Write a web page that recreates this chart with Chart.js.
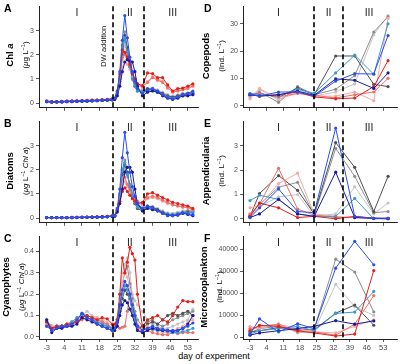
<!DOCTYPE html>
<html><head><meta charset="utf-8">
<script src="https://cdn.jsdelivr.net/npm/chart.js@4/dist/chart.umd.min.js"></script>
<style>
body{margin:0;width:400px;height:364px;background:#fff;position:relative;overflow:hidden;font-family:"Liberation Sans",Arial,sans-serif}
canvas{position:absolute}
.pl{position:absolute;font-weight:bold;font-size:10.5px;line-height:10px;color:#000}
.yt{position:absolute;transform:translate(-50%,-50%) rotate(-90deg);white-space:nowrap;text-align:center;font-size:8px;line-height:12px;color:#000}
.yt b{font-size:9.5px}
.yt sup{font-size:5.5px;vertical-align:3px}
.xt{position:absolute;font-size:9px;color:#000;white-space:nowrap;transform:translateX(-50%)}
</style></head><body>
<canvas id="cA"></canvas><canvas id="cB"></canvas><canvas id="cC"></canvas>
<canvas id="cD"></canvas><canvas id="cE"></canvas><canvas id="cF"></canvas>
<div class="pl" style="left:4px;top:3px">A</div>
<div class="pl" style="left:4px;top:118px">B</div>
<div class="pl" style="left:4px;top:233px">C</div>
<div class="pl" style="left:204px;top:3px">D</div>
<div class="pl" style="left:204px;top:118px">E</div>
<div class="pl" style="left:204px;top:233px">F</div>
<div class="yt" style="left:18px;top:55px"><b>Chl <i>a</i></b><br>(<i>μ</i>g L<sup>−1</sup>)</div>
<div class="yt" style="left:18px;top:171px"><b>Diatoms</b><br>(<i>μg</i> L<sup>−1</sup> <i>Chl a</i>)</div>
<div class="yt" style="left:14px;top:287px"><b>Cyanophytes</b><br>(<i>μg</i> L<sup>−1</sup> <i>Chl a</i>)</div>
<div class="yt" style="left:214px;top:56px"><b>Copepods</b><br>(Ind. L<sup>−1</sup>)</div>
<div class="yt" style="left:214px;top:171px"><b>Appendicularia</b><br>(Ind. L<sup>−1</sup>)</div>
<div class="yt" style="left:212px;top:287px"><b>Microzooplankton</b><br>(Ind. L<sup>−1</sup>)</div>
<div class="xt" style="left:214px;top:351px">day of experiment</div>
<script>
// ---------- data ----------
const seriesNames = ["blue","navy","red","lightblue","salmon","pink","darkgrey","grey","lightgrey"];
const seriesColors = ["#2b4df2","#1b1b9a","#e3201b","#3a9ad6","#ef6f69","#f4aaa6","#505050","#8e8e8e","#c4c4c4"];
const phaseLabels = ["I","II","III"];
const phaseCenters = [9,30,47];
const xTickLabels = [-3,4,11,18,25,32,39,46,53];

const daysLeft = [-3,-1,1,3,5,7,9,11,13,15,17,19,21,23,24,25,26,27,28,29,30,31,32,33,35,37,39,41,43,45,47,49,51,53,55];
const daysRight = [-3,1,9,17,24,33,41,49,55];

// Chl a (A)
const chlA = {
  lightgrey:[0.07,0.05,0.05,0.06,0.07,0.08,0.08,0.09,0.10,0.10,0.11,0.12,0.14,0.15, 0.18,0.30,0.80,1.80,2.40,2.00,1.70,1.30,0.90,0.60,0.55, 0.60,0.62,0.55,0.45,0.35,0.30,0.35,0.40,0.42,0.45],
  grey:     [0.08,0.05,0.06,0.06,0.07,0.08,0.09,0.09,0.10,0.11,0.11,0.12,0.13,0.16, 0.20,0.40,1.10,2.40,2.95,2.20,1.60,1.10,0.80,0.55,0.50, 0.55,0.60,0.50,0.35,0.28,0.22,0.30,0.38,0.35,0.40],
  darkgrey: [0.06,0.04,0.05,0.05,0.06,0.07,0.08,0.08,0.09,0.10,0.10,0.11,0.13,0.14, 0.18,0.35,0.90,2.00,2.80,2.30,1.50,1.00,0.70,0.50,0.45, 0.60,0.55,0.50,0.40,0.30,0.25,0.30,0.35,0.40,0.42],
  lightblue:[0.07,0.05,0.05,0.06,0.07,0.07,0.08,0.09,0.09,0.10,0.11,0.12,0.13,0.15, 0.18,0.40,1.00,2.20,2.70,2.10,1.50,1.00,0.70,0.50,0.45, 0.50,0.55,0.45,0.35,0.25,0.20,0.25,0.30,0.32,0.38],
  pink:     [0.08,0.06,0.06,0.07,0.07,0.08,0.09,0.10,0.10,0.11,0.12,0.13,0.14,0.16, 0.18,0.35,0.80,1.50,1.70,1.60,1.40,1.10,0.90,0.75,0.65, 0.90,1.10,1.00,0.90,0.60,0.50,0.55,0.60,0.65,0.75],
  salmon:   [0.09,0.06,0.06,0.07,0.08,0.09,0.09,0.10,0.11,0.11,0.12,0.13,0.15,0.17, 0.20,0.45,1.00,1.90,2.00,1.80,1.50,1.30,1.00,0.80,0.70, 0.85,1.05,0.95,0.85,0.65,0.45,0.50,0.55,0.60,0.70],
  red:      [0.08,0.06,0.06,0.07,0.08,0.08,0.09,0.10,0.11,0.12,0.12,0.14,0.15,0.18, 0.20,0.50,1.20,2.20,2.10,1.90,1.60,1.20,1.00,0.80,0.72, 1.25,1.22,1.05,1.05,0.75,0.50,0.60,0.62,0.70,0.80],
  navy:     [0.06,0.04,0.05,0.05,0.06,0.06,0.07,0.08,0.08,0.09,0.10,0.11,0.12,0.13, 0.15,0.30,0.70,1.30,1.70,1.80,1.75,1.70,1.30,0.70,0.30, 0.45,0.50,0.45,0.30,0.20,0.15,0.20,0.30,0.30,0.35],
  blue:     [0.07,0.05,0.05,0.06,0.07,0.07,0.08,0.09,0.10,0.10,0.11,0.12,0.14,0.15, 0.20,0.50,1.30,2.60,3.62,2.70,1.90,1.30,0.90,0.60,0.40, 0.55,0.60,0.50,0.35,0.22,0.18,0.25,0.35,0.40,0.50]
};
// Diatoms (B)
const diatoms = {
  lightgrey:[0.02,0.02,0.02,0.02,0.02,0.02,0.03,0.03,0.03,0.04,0.04,0.05,0.06,0.08, 0.10,0.30,0.80,1.60,2.00,1.70,1.40,1.10,0.80,0.60,0.50, 0.50,0.48,0.40,0.30,0.22,0.20,0.25,0.30,0.32,0.35],
  grey:     [0.02,0.02,0.02,0.02,0.02,0.03,0.03,0.03,0.04,0.04,0.05,0.05,0.06,0.08, 0.12,0.35,1.00,2.00,2.40,1.80,1.40,1.00,0.70,0.50,0.40, 0.45,0.40,0.35,0.25,0.18,0.15,0.20,0.25,0.30,0.30],
  darkgrey: [0.02,0.02,0.02,0.02,0.02,0.02,0.02,0.03,0.03,0.04,0.04,0.05,0.06,0.07, 0.10,0.30,0.90,1.80,2.20,1.90,1.30,0.90,0.60,0.40,0.30, 0.50,0.45,0.35,0.25,0.15,0.12,0.15,0.20,0.25,0.25],
  lightblue:[0.02,0.02,0.02,0.02,0.02,0.02,0.03,0.03,0.03,0.04,0.04,0.05,0.06,0.08, 0.10,0.35,1.00,2.00,2.30,1.80,1.30,0.90,0.65,0.45,0.35, 0.45,0.40,0.30,0.22,0.15,0.12,0.18,0.25,0.20,0.25],
  pink:     [0.02,0.02,0.02,0.02,0.02,0.03,0.03,0.03,0.04,0.04,0.05,0.05,0.07,0.09, 0.10,0.30,0.80,1.40,1.50,1.30,1.10,0.90,0.75,0.65,0.55, 0.80,0.85,0.80,0.70,0.60,0.55,0.50,0.48,0.45,0.30],
  salmon:   [0.02,0.02,0.02,0.02,0.02,0.03,0.03,0.04,0.04,0.04,0.05,0.06,0.07,0.09, 0.10,0.35,0.90,1.60,1.70,1.40,1.20,0.90,0.80,0.70,0.60, 0.85,0.90,0.85,0.75,0.65,0.55,0.50,0.45,0.45,0.35],
  red:      [0.02,0.02,0.02,0.02,0.02,0.03,0.03,0.03,0.04,0.04,0.05,0.06,0.07,0.09, 0.10,0.30,0.70,1.10,1.25,1.10,0.95,0.80,0.70,0.60,0.65, 1.00,1.05,0.95,0.85,0.75,0.65,0.60,0.55,0.50,0.40],
  navy:     [0.02,0.02,0.02,0.02,0.02,0.02,0.02,0.03,0.03,0.03,0.04,0.05,0.06,0.07, 0.08,0.25,0.60,1.20,1.90,2.10,2.10,1.90,1.20,0.60,0.30, 0.40,0.35,0.30,0.20,0.12,0.10,0.12,0.20,0.15,0.10],
  blue:     [0.02,0.02,0.02,0.02,0.02,0.02,0.03,0.03,0.03,0.04,0.04,0.05,0.06,0.08, 0.10,0.40,1.20,2.50,3.55,2.70,1.90,1.30,0.90,0.60,0.40, 0.50,0.42,0.30,0.20,0.10,0.10,0.15,0.22,0.18,0.15]
};
// Cyanophytes (C)
const cyano = {
  lightgrey:[0.07,0.05,0.05,0.05,0.06,0.07,0.09,0.10,0.12,0.10,0.09,0.07,0.06,0.04, 0.05,0.09,0.18,0.30,0.34,0.37,0.30,0.20,0.17,0.15,0.12, 0.08,0.06,0.05,0.04,0.04,0.05,0.06,0.07,0.08,0.13],
  grey:     [0.06,0.04,0.05,0.05,0.05,0.07,0.08,0.11,0.10,0.09,0.08,0.07,0.06,0.04, 0.05,0.08,0.15,0.25,0.30,0.33,0.25,0.18,0.12,0.08,0.05, 0.07,0.08,0.06,0.05,0.06,0.08,0.09,0.10,0.11,0.12],
  darkgrey: [0.07,0.05,0.04,0.05,0.05,0.06,0.08,0.11,0.09,0.08,0.07,0.06,0.05,0.04, 0.04,0.07,0.12,0.18,0.22,0.20,0.18,0.12,0.08,0.05,0.04, 0.06,0.07,0.06,0.08,0.10,0.11,0.10,0.11,0.12,0.10],
  lightblue:[0.08,0.04,0.05,0.05,0.06,0.07,0.09,0.10,0.09,0.08,0.07,0.06,0.05,0.04, 0.04,0.08,0.14,0.20,0.24,0.22,0.18,0.12,0.08,0.05,0.03, 0.04,0.035,0.03,0.03,0.025,0.02,0.02,0.025,0.03,0.04],
  pink:     [0.06,0.05,0.05,0.05,0.06,0.07,0.08,0.09,0.10,0.09,0.09,0.08,0.07,0.05, 0.05,0.07,0.15,0.25,0.30,0.28,0.22,0.15,0.10,0.06,0.04, 0.05,0.04,0.03,0.02,0.02,0.03,0.04,0.05,0.07,0.08],
  salmon:   [0.05,0.04,0.04,0.05,0.05,0.06,0.07,0.08,0.09,0.08,0.08,0.07,0.06,0.04, 0.04,0.05,0.04,0.045,0.05,0.12,0.20,0.15,0.08,0.04,0.02, 0.03,0.02,0.015,0.01,0.01,0.02,0.015,0.02,0.02,0.02],
  red:      [0.07,0.04,0.05,0.05,0.06,0.06,0.07,0.09,0.10,0.09,0.08,0.09,0.085,0.06, 0.06,0.08,0.20,0.37,0.30,0.35,0.42,0.39,0.36,0.20,0.05, 0.08,0.09,0.10,0.08,0.07,0.10,0.14,0.17,0.165,0.165],
  navy:     [0.08,0.02,0.04,0.04,0.05,0.05,0.06,0.09,0.08,0.07,0.06,0.05,0.04,0.03, 0.03,0.05,0.10,0.15,0.17,0.16,0.13,0.10,0.06,0.03,0.02, 0.03,0.04,0.035,0.03,0.03,0.025,0.03,0.04,0.06,0.10],
  blue:     [0.05,0.03,0.04,0.05,0.05,0.06,0.08,0.11,0.09,0.08,0.06,0.05,0.04,0.03, 0.04,0.07,0.15,0.22,0.26,0.24,0.20,0.15,0.10,0.05,0.03, 0.04,0.05,0.04,0.035,0.03,0.03,0.03,0.04,0.05,0.065]
};
// Copepods (D)
const copepods = {
  lightgrey:[2.5,6.0,2.0,6.0,3.5,5.0,8.0,26.0,33.0],
  grey:     [3.5,5.0,1.2,7.0,4.0,6.0,11.0,27.0,32.6],
  darkgrey: [4.0,4.5,3.0,6.5,4.0,18.2,18.2,7.8,7.0],
  lightblue:[4.5,4.0,3.5,6.0,4.5,12.0,18.5,11.5,30.0],
  pink:     [3.0,6.3,2.5,4.5,3.5,3.5,5.0,1.8,32.0],
  salmon:   [4.0,4.5,3.2,4.5,3.8,2.8,4.0,5.0,10.0],
  red:      [4.0,3.5,4.0,5.0,3.2,2.5,2.8,7.0,16.5],
  navy:     [4.0,3.5,4.0,5.3,3.8,9.8,9.3,6.3,12.0],
  blue:     [4.2,3.5,5.0,5.0,3.5,9.0,11.7,11.6,25.7]
};
// Appendicularia (E)
const append = {
  lightgrey:[0.10,0.50,0.90,1.00,0.10,0.20,1.32,0.20,0.65],
  grey:     [0.15,0.60,1.30,1.50,0.15,2.90,1.75,0.25,0.30],
  darkgrey: [0.10,1.04,1.78,1.17,0.20,3.14,2.12,0.30,1.75],
  lightblue:[0.75,0.97,0.80,0.20,0.10,0.10,0.84,0.00,0.00],
  pink:     [0.45,0.55,1.45,1.88,0.20,0.10,0.05,0.02,0.02],
  salmon:   [0.20,0.60,2.08,0.40,0.15,0.05,0.05,0.02,0.02],
  red:      [0.10,0.65,0.45,0.05,0.10,0.00,0.10,0.02,0.02],
  navy:     [0.05,0.20,0.80,0.20,0.10,1.92,0.05,0.02,0.00],
  blue:     [0.05,0.45,1.23,0.30,0.25,3.74,0.10,0.02,0.02]
};
// Microzooplankton (F)
const microzoo = {
  lightgrey:[3500,4500,5500,2000,3000,24100,14000,10000,null],
  grey:     [2000,4000,5000,3000,4000,35600,29700,11600,null],
  darkgrey: [2500,3000,4500,3500,3500,11000,14700,5500,null],
  lightblue:[1500,3000,4000,5000,3000,10900,11500,20900,null],
  pink:     [5000,4000,6000,4000,2500,2000,5000,8000,null],
  salmon:   [4000,5000,6000,2500,2500,1000,6000,19000,null],
  red:      [3000,5500,5000,3000,2000,600,1500,30400,null],
  navy:     [1000,2000,3000,4000,5000,7600,6000,7500,null],
  blue:     [1500,8400,2500,6200,4000,31500,43700,33000,null]
};
const yTicksA = [0,1,2,3], yTicksC = [0,0.1,0.2,0.3,0.4], yTicksD = [0,10,20,30], yTicksF = [0,10000,20000,30000,40000];

// ---------- drawing ----------
const FONT = "'Liberation Sans', Arial, sans-serif";
const deco = {
  id:'deco',
  afterDatasetsDraw(chart, args, o){
    const {ctx, chartArea:a} = chart; const x = chart.scales.x;
    ctx.save();
    ctx.strokeStyle = '#000'; ctx.lineWidth = 1.6; ctx.setLineDash([5,3]);
    o.vl.forEach(v=>{ const px = Math.round(x.getPixelForValue(v)); ctx.beginPath(); ctx.moveTo(px,a.top); ctx.lineTo(px,a.bottom); ctx.stroke(); });
    ctx.setLineDash([]);
    ctx.fillStyle = '#222'; ctx.font = '10.5px ' + FONT; ctx.textAlign='center'; ctx.textBaseline='middle';
    phaseLabels.forEach((t,i)=>ctx.fillText(t, x.getPixelForValue(phaseCenters[i]), a.top+7));
    if (o.dw){
      ctx.save(); ctx.translate(x.getPixelForValue(o.vl[0]) - 10, a.top + 40); ctx.rotate(-Math.PI/2);
      ctx.font = '7.5px ' + FONT; ctx.fillStyle='#222'; ctx.fillText('DW addition', 0, 0); ctx.restore();
    }
    ctx.restore();
  }
};

function panel(id, left, top, w, h, cfg){
  const c = document.getElementById(id);
  c.width = w; c.height = h; c.style.left = left+'px'; c.style.top = top+'px';
  const datasets = seriesNames.map((n,i)=>({
    label:n,
    data: cfg.days.map((d,j)=>({x:d, y:cfg.data[n][j]})),
    borderColor: seriesColors[i], backgroundColor: seriesColors[i],
    borderWidth: 1, pointRadius: 1.6, pointBorderWidth: 0, pointHoverRadius:0, spanGaps:false
  }));
  new Chart(c, {
    type:'line',
    data:{datasets},
    options:{
      responsive:false, animation:false, devicePixelRatio:1,
      layout:{padding:{top:cfg.padTop, right:cfg.padRight, left:0, bottom:0}},
      plugins:{legend:{display:false}, tooltip:{enabled:false}, deco:{vl:cfg.vl, dw:cfg.dw}},
      scales:{
        x:{type:'linear', min:cfg.xmin, max:cfg.xmax,
          afterBuildTicks:s=>{ s.ticks = xTickLabels.map(v=>({value:v})); },
          afterFit:s=>{ s.height = cfg.xh; },
          grid:{display:true, drawOnChartArea:false, drawTicks:true, tickLength:3, color:'#333', lineWidth:0.8},
          border:{display:true, color:'#222', width:1},
          ticks:{display:cfg.xlab, font:{size:7.5, family:FONT}, color:'#4d4d4d', padding:1, maxRotation:0, autoSkip:false, callback:v=>String(v)}
        },
        y:{type:'linear', min:cfg.ymin, max:cfg.ymax,
          afterBuildTicks:s=>{ s.ticks = cfg.yt.map(v=>({value:v})); },
          afterFit:s=>{ s.width = cfg.yw; },
          grid:{display:true, drawOnChartArea:false, drawTicks:true, tickLength:3, color:'#333', lineWidth:0.8},
          border:{display:true, color:'#222', width:1},
          ticks:{font:{size:7, family:FONT}, color:'#4d4d4d', padding:2, autoSkip:false, callback:cfg.yf}
        }
      }
    },
    plugins:[deco]
  });
}
const fInt = v=>String(v), f1 = v=>v.toFixed(1);
const L = {xmin:-6.06, xmax:57.04, padRight:2, yw:39, vl:[23.5,35.5]};
const R = {xmin:-5.94, xmax:58.76, padRight:3, yw:43, vl:[24,36]};
panel('cA',0,0,200,114,   {...L, days:daysLeft, data:chlA, padTop:3, xh:3, xlab:false, ymin:-0.195, ymax:4.01, yt:yTicksA, yf:fInt, dw:true});
panel('cB',0,115,200,114, {...L, days:daysLeft, data:diatoms, padTop:3, xh:3, xlab:false, ymin:-0.195, ymax:4.01, yt:yTicksA, yf:fInt});
panel('cC',0,230,200,121, {...L, days:daysLeft, data:cyano, padTop:3, xh:12, xlab:true, ymin:-0.01, ymax:0.472, yt:yTicksC, yf:f1});
panel('cD',200,0,200,114, {...R, days:daysRight, data:copepods, padTop:3, xh:3, xlab:false, ymin:-0.79, ymax:36.45, yt:yTicksD, yf:fInt});
panel('cE',200,115,200,114,{...R, days:daysRight, data:append, padTop:3, xh:3, xlab:false, ymin:-0.166, ymax:4.02, yt:yTicksA, yf:fInt});
panel('cF',200,230,200,121,{...R, days:daysRight, data:microzoo, padTop:3, xh:12, xlab:true, ymin:-750, ymax:46050, yt:yTicksF, yf:fInt});
</script>
</body></html>
